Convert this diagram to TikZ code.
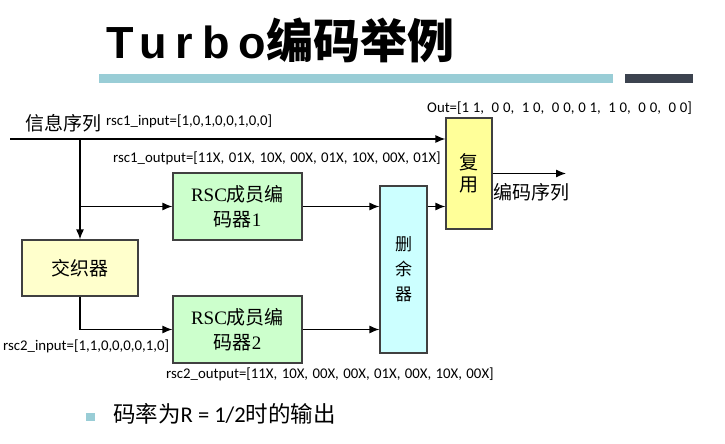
\documentclass[tikz,border=0pt]{standalone}
\usepackage{fontspec}
\setmainfont{Liberation Serif}
\newfontfamily\cjk{Noto Sans CJK SC}
\newfontfamily\labfont{Carlito}
\newfontfamily\ttlfont{Liberation Sans}[LetterSpace=20]
\newcommand\widespaces{\spaceskip=4.4pt plus 1pt\relax}
\newcommand\outspaces{\spaceskip=3.8pt plus 1pt\relax}
\usetikzlibrary{positioning,arrows.meta,calc}
\definecolor{encgreen}{HTML}{CCFFCC}
\definecolor{ilvyellow}{HTML}{FFFFCC}
\definecolor{punccyan}{HTML}{CCFFFF}
\definecolor{muxyellow}{HTML}{FFFF99}
\definecolor{barcyan}{HTML}{99CDD6}
\definecolor{bardark}{HTML}{3C434F}
\tikzstyle{box}    = [draw=black!75, line width=1.2pt, inner sep=0pt, align=center]
\tikzstyle{enc}    = [box, fill=encgreen, minimum width=129pt, minimum height=67pt, font=\fontsize{19}{25}\selectfont]
\tikzstyle{ilv}    = [box, fill=ilvyellow, minimum width=116pt, minimum height=56pt, font=\cjk\fontsize{19}{25}\selectfont]
\tikzstyle{punc}   = [box, fill=punccyan, minimum width=47pt, minimum height=167pt, font=\cjk\fontsize{17}{25}\selectfont]
\tikzstyle{mux}    = [box, fill=muxyellow, minimum width=46pt, minimum height=111pt, font=\cjk\fontsize{19}{22}\selectfont]
\tikzstyle{lab}    = [font=\labfont\fontsize{14.8}{17}\selectfont, inner sep=0pt, anchor=base west]
\tikzstyle{seqlab} = [lab, font=\labfont\fontsize{14.8}{17}\selectfont\widespaces]
\tikzstyle{outlab} = [lab, font=\labfont\fontsize{14.8}{17}\selectfont\outspaces]
\tikzstyle{cjklab} = [font=\cjk\fontsize{19}{22}\selectfont, inner sep=0pt, anchor=base west]
\tikzstyle{arrow}  = [line width=1.2pt, -{Latex[length=10pt,width=8pt]}]

\begin{document}
\begin{tikzpicture}[x=1pt,y=-1pt]
	\useasboundingbox (0,0) rectangle (725,444);

	% title
	\node[anchor=base west, inner sep=0pt] (title) at (106,59) {\ttlfont\bfseries\fontsize{45}{50}\selectfont Turbo\cjk\bfseries\fontsize{47}{50}\selectfont 编码举例};
	\fill[barcyan] (99,74) rectangle (613,83);
	\fill[bardark] (625,74) rectangle (693,83);

	% blocks
	\node[enc] (rsc1) at (237.5,206.5) {RSC{\cjk 成员编}\\{\cjk 码器}1};
	\node[ilv] (ilv) at (80,268) {交织器};
	\node[enc] (rsc2) at (237.5,329.5) {RSC{\cjk 成员编}\\{\cjk 码器}2};
	\node[punc] (punc) at (403.5,269.5) {删\\余\\器};
	\node[mux] (mux) at (469,173.5) {复\\用};

	\coordinate (src) at (10,139);
	\coordinate (dst) at (566,173.5);

	% connectors
	\draw[arrow] (src) -- (src -| mux.west);
	\draw[arrow] (src -| ilv.north) -- (ilv.north);
	\draw[arrow] (ilv.north |- rsc1.west) -- (rsc1.west);
	\draw[arrow] (ilv.south) |- (rsc2.west);
	\draw[arrow] (rsc1.east) -- (rsc1.east -| punc.west);
	\draw[arrow] (rsc2.east) -- (rsc2.east -| punc.west);
	\draw[arrow] (punc.east |- rsc1.east) -- (mux.west |- rsc1.east);
	\draw[arrow] (mux.east) -- (dst);

	% labels
	\node[cjklab] (info) at (25,130) {信息序列};
	\node[lab] (in1) at (106,125) {rsc1\_input=[1,0,1,0,0,1,0,0]};
	\node[seqlab] (out1) at (113,162) {rsc1\_output=[11X, 01X, 10X, 00X, 01X, 10X, 00X, 01X]};
	\node[outlab] (outall) at (427,112) {Out=[1 1, \ 0 0, \ 1 0, \ 0 0, 0 1, \ 1 0, \ 0 0, \ 0 0]};
	\node[lab] (in2) at (3,350) {rsc2\_input=[1,1,0,0,0,0,1,0]};
	\node[seqlab] (out2) at (166,378) {rsc2\_output=[11X, 10X, 00X, 00X, 01X, 00X, 10X, 00X]};
	\node[cjklab] (code) at (493,199) {编码序列};

	% bottom line
	\fill[barcyan] (86,413) rectangle (95,421);
	\node[anchor=base west, inner sep=0pt, font=\cjk\fontsize{22.5}{24}\selectfont] (rate) at (113,422) {码率为{\labfont R = 1/2}时的输出};
\end{tikzpicture}
\end{document}
